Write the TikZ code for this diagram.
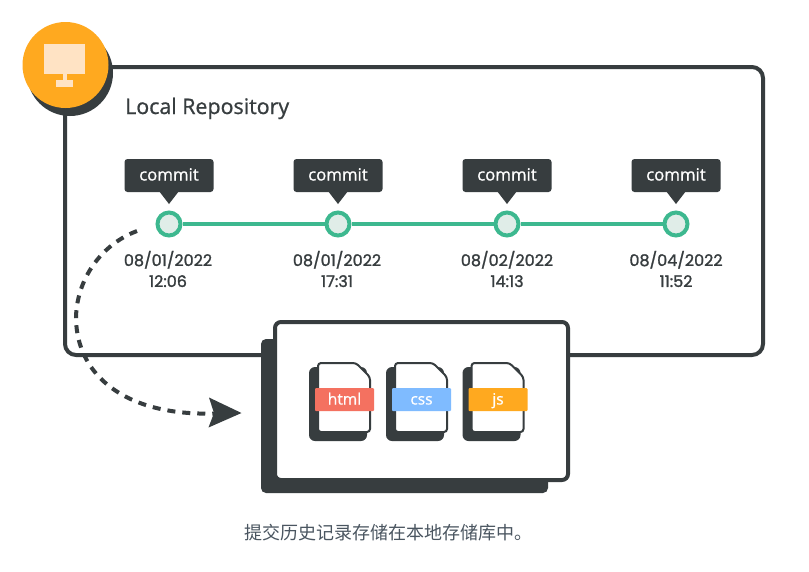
\documentclass[tikz,border=0pt]{standalone}
\usepackage{fontspec}
\setmainfont{Open Sans}
\newfontfamily\medfont[FakeBold=0.9]{Open Sans}
\newfontfamily\datefont[FakeBold=1.4]{Poppins}
\newfontfamily\cjk{Noto Sans CJK SC}
\definecolor{ink}{HTML}{373D3F}
\definecolor{grn}{HTML}{3DB88F}
\definecolor{grnfill}{HTML}{E0EDE8}
\definecolor{orng}{HTML}{FFA91F}
\definecolor{pale}{HTML}{FFE3C4}
\definecolor{redl}{HTML}{F47160}
\definecolor{bluel}{HTML}{7FBBFF}
\definecolor{capt}{HTML}{4A5560}
\tikzset{
  x=1pt,y=-1pt,
  frameline/.style={draw=ink,line width=4pt,rounded corners=11pt},
  dot/.style={circle,draw=grn,fill=grnfill,line width=4pt,minimum size=23pt,inner sep=0pt},
  link/.style={draw=grn,line width=4pt},
  tag/.style={font=\medfont\fontsize{16.8}{18}\selectfont,text=white,inner sep=0pt,anchor=base},
  datelbl/.style={font=\datefont\fontsize{16}{21}\selectfont,text=ink,align=center,inner sep=0pt},
  ftag/.style={fill=#1,inner sep=0pt,minimum width=59pt,minimum height=23pt,rounded corners=1pt},
  ftext/.style={font=\medfont\fontsize{15.5}{18}\selectfont,text=white,inner sep=0pt,anchor=base},
  sheet/.style={fill=white,draw=ink,line width=2pt,line join=round},
  sheetshadow/.style={fill=ink},
}
\newcommand{\commitbox}[2]{%
  \fill[ink,rounded corners=3pt] (#1-44.5,159) rectangle (#1+44.5,192);
  \fill[ink] (#1-10,191) -- (#1+10,191) -- (#1,204) -- cycle;
  \node[tag] (#2) at (#1,180.5) {commit};
}
\newcommand{\filedoc}[4]{%
  \fill[sheetshadow,rounded corners=6pt] (#1,367) rectangle (#1+58,441);
  \draw[sheet,rounded corners=3pt] (#1+9,363) -- (#1+47,363) -- (#1+61,377) -- (#1+61,432) -- (#1+9,432) -- cycle;
  \node[ftag=#2] (#3) at (#1+35.5,399.5) {};
  \node[ftext] at (#1+35.5,404.5) {#4};
}
\begin{document}
\begin{tikzpicture}
\useasboundingbox (0,0) rectangle (809,571);
\fill[white] (0,0) rectangle (809,571);
% outer repository frame
\draw[frameline] (65,67) rectangle (763,355);
% badge
\fill[ink] (70,73) circle[radius=43];
\fill[orng] (65.5,65) circle[radius=43];
\fill[pale] (43.5,44) rectangle (85,74);
\fill[pale] (62.5,74) rectangle (67,80);
\fill[pale] (56,80) rectangle (73,87);
\node[font=\medfont\fontsize{21.4}{24}\selectfont,text=ink,anchor=base west,inner sep=0pt] (title) at (125,114) {Local Repository};
% timeline
\node[dot] (c1) at (169,224) {};
\node[dot] (c2) at (338,224) {};
\node[dot] (c3) at (507,224) {};
\node[dot] (c4) at (676,224) {};
\draw[link] (c1) -- (c2);
\draw[link] (c2) -- (c3);
\draw[link] (c3) -- (c4);
\commitbox{169}{t1}
\commitbox{338}{t2}
\commitbox{507}{t3}
\commitbox{676}{t4}
\node[datelbl] (d1) at (168,269) {08/01/2022\\12:06};
\node[datelbl] (d2) at (337,269) {08/01/2022\\17:31};
\node[datelbl] (d3) at (507,269) {08/02/2022\\14:13};
\node[datelbl] (d4) at (676,269) {08/04/2022\\11:52};
% working tree panel
\fill[ink,rounded corners=5pt] (261,339) rectangle (548,493);
\draw[fill=white,draw=ink,line width=4pt,rounded corners=6pt] (275,322) rectangle (568,480);
\filedoc{309}{redl}{f1}{html}
\filedoc{386}{bluel}{f2}{css}
\filedoc{462.5}{orng}{f3}{js}
% dashed arrow
\coordinate (from) at (137,231);
\coordinate (to) at (214,413.5);
\draw[ink,line width=4pt,dash pattern=on 8pt off 7pt] (from) .. controls (100,245) and (77,280) .. (76,317) .. controls (76,375) and (125,416) .. (to);
\fill[ink] (209,397.5) -- (241.5,413) -- (208.5,427.5) -- (214,413) -- cycle;
\node[font=\cjk\fontsize{18}{20}\selectfont,text=capt,inner sep=0pt] (cap) at (388,533) {提交历史记录存储在本地存储库中。};
\end{tikzpicture}
\end{document}
